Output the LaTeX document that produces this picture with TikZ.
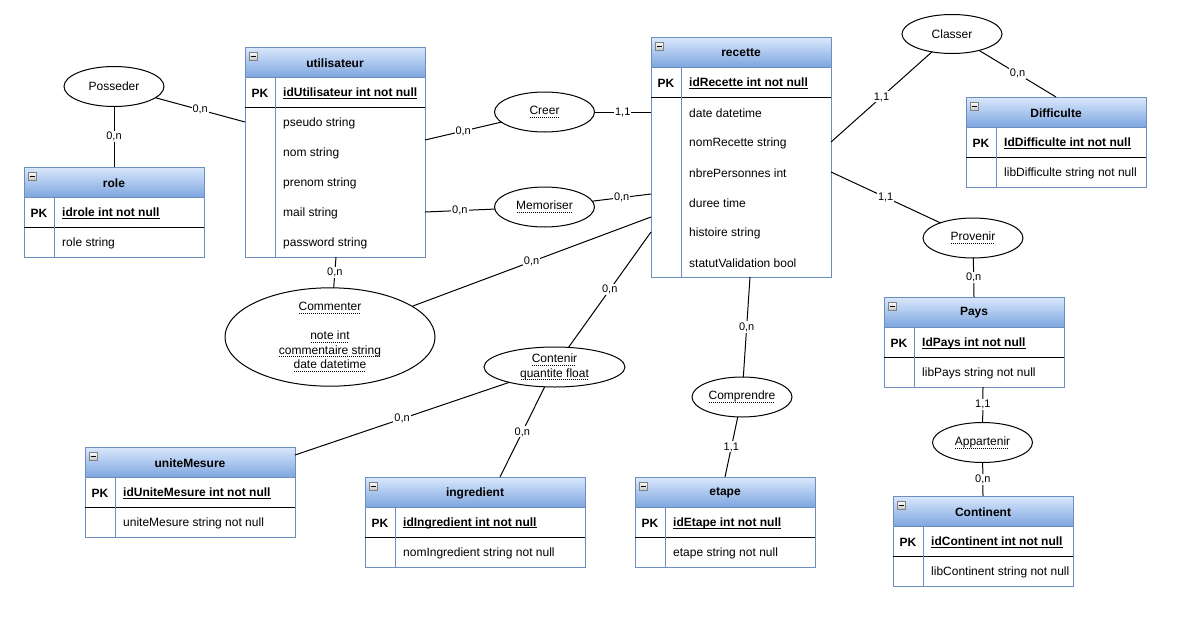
\documentclass[tikz,border=0pt]{standalone}
\usepackage{fontspec}
\setmainfont{Liberation Sans}
\usetikzlibrary{shapes.geometric,calc}

\definecolor{hdrtop}{HTML}{DAE8FC}
\definecolor{hdrbot}{HTML}{7EA6E0}
\definecolor{tblline}{HTML}{6C8EBF}

\newcommand\txtfont{\fontsize{12}{14.5}\selectfont}
\newcommand\cardfont{\fontsize{11}{13}\selectfont}
% solid underline for key columns
\newcommand\pkul[1]{\setbox0\hbox{#1}\rlap{\raisebox{-2.2pt}{\rule{\wd0}{0.8pt}}}\box0}
% dotted underline for association attributes
\newcommand\dotul[1]{\setbox0\hbox{#1}\rlap{\raisebox{-3.2pt}{\hbox to \wd0{\leaders\hbox to 2pt{\hss\rule{1pt}{0.8pt}\hss}\hfill}}}\box0}

\tikzset{
  tblframe/.style={draw=tblline, line width=1pt, anchor=north west, inner sep=0, outer sep=0},
  tbltitle/.style={font=\txtfont\bfseries, inner sep=0},
  cell/.style={font=\txtfont, inner sep=0},
  keycell/.style={font=\txtfont\bfseries, inner sep=0},
  rel/.style={ellipse, draw, line width=1pt, inner sep=0, outer sep=0, font=\txtfont, align=center,
              minimum width=100pt, minimum height=40pt},
  link/.style={line width=1pt, draw=black},
  card/.style={fill=white, inner sep=1pt, font=\cardfont},
}

% #1 name, #2 left, #3 top, #4 width, #5 attribute rows, #6 title, #7 key, #8 attributes
\newcommand\ertable[8]{%
  \pgfmathsetmacro\tblh{60+30*#5}
  \shade[top color=hdrtop, bottom color=hdrbot] (#2,#3) rectangle ++(#4,30);
  \node[tblframe, minimum width=#4pt, minimum height=\tblh pt] (#1) at (#2,#3) {};
  \draw[tblline, line width=1pt] ($(#1.north west)+(0,30)$) -- ($(#1.north east)+(0,30)$);
  \draw[black, line width=1pt] ($(#1.north west)+(0,60)$) -- ($(#1.north east)+(0,60)$);
  \draw[tblline, line width=1pt] ($(#1.north west)+(30,30)$) -- ($(#1.south west)+(30,0)$);
  \draw[gray, line width=0.8pt, top color=white, bottom color=gray!45] ($(#1.north west)+(4,5)$) rectangle ++(8,8);
  \draw[black, line width=0.8pt] ($(#1.north west)+(5.5,9)$) -- ++(5,0);
  \node[tbltitle] (#1-title) at ($(#1.north)+(0,16)$) {#6};
  \node[keycell] (#1-pk) at ($(#1.north west)+(15,46)$) {PK};
  \node[keycell, anchor=west] (#1-key) at ($(#1.north west)+(38,46)$) {\pkul{#7}};
  \foreach \a [count=\i] in {#8}
    \node[cell, anchor=west] (#1-attr\i) at ($(#1.north west)+(38,46+30*\i)$) {\a};
}

\begin{document}
\begin{tikzpicture}[x=1pt, y=-1pt]
\fill[white] (0,0) rectangle (1188,621);
\useasboundingbox (0,0) rectangle (1188,621);

% entity tables
\ertable{util}{245}{47}{180}{5}{utilisateur}{idUtilisateur int not null}{pseudo string,nom string,prenom string,mail string,password string}
\ertable{recette}{651}{37}{180}{6}{recette}{idRecette int not null}{date datetime,nomRecette string,nbrePersonnes int,duree time,histoire string,statutValidation bool}
\ertable{role}{24}{167}{180}{1}{role}{idrole int not null}{role string}
\ertable{difficulte}{966}{97}{180}{1}{Difficulte}{IdDifficulte int not null}{libDifficulte string not null}
\ertable{pays}{884}{297}{180}{1}{Pays}{IdPays int not null}{libPays string not null}
\ertable{continent}{893}{496}{180}{1}{Continent}{idContinent int not null}{libContinent string not null}
\ertable{unite}{85}{447}{210}{1}{uniteMesure}{idUniteMesure int not null}{uniteMesure string not null}
\ertable{ingredient}{365}{477}{220}{1}{ingredient}{idIngredient int not null}{nomIngredient string not null}
\ertable{etape}{635}{477}{180}{1}{etape}{idEtape int not null}{etape string not null}

% associations
\node[rel] (posseder) at (114,86.5) {Posseder};
\node[rel] (creer) at (544.5,112) {\dotul{Creer}};
\node[rel] (memoriser) at (544.5,207) {\dotul{Memoriser}};
\node[rel, minimum width=210pt, minimum height=80pt] (commenter) at (330,337)
  {\dotul{Commenter}\\[14.5pt]\dotul{note int}\\\dotul{commentaire string}\\\dotul{date datetime}};
\node[rel, minimum width=141pt] (contenir) at (554.5,367) {\dotul{Contenir}\\\dotul{quantite float}};
\node[rel] (comprendre) at (742,397) {\dotul{Comprendre}};
\node[rel, minimum height=39pt] (classer) at (952,34) {Classer};
\node[rel] (provenir) at (973,238) {\dotul{Provenir}};
\node[rel] (appartenir) at (982.5,442.5) {\dotul{Appartenir}};

% links with cardinalities
\draw[link] (posseder) -- node[card]{0,n} ($(util.north west)+(0,75)$);
\draw[link] (posseder) -- node[card]{0,n} (role.north);
\draw[link] ($(util.north east)+(0,93)$) -- node[card]{0,n} (creer);
\draw[link] (creer) -- node[card]{1,1} ($(recette.north west)+(0,75)$);
\draw[link] ($(util.north east)+(0,165)$) -- node[card]{0,n} (memoriser);
\draw[link] (memoriser) -- node[card]{0,n} ($(recette.north west)+(0,157)$);
\draw[link] (commenter) -- node[card]{0,n} ($(util.south west)+(91,0)$);
\draw[link] (commenter) -- node[card]{0,n} ($(recette.north west)+(0,180)$);
\draw[link] (contenir) -- node[card]{0,n} ($(recette.north west)+(0,195)$);
\draw[link] (contenir) -- node[card]{0,n} ($(unite.north east)+(0,8)$);
\draw[link] (contenir) -- node[card]{0,n} ($(ingredient.north west)+(135,0)$);
\draw[link] ($(recette.south west)+(99,0)$) -- node[card]{0,n} (comprendre);
\draw[link] (comprendre) -- node[card]{1,1} (etape.north);
\draw[link] (classer) -- node[card]{1,1} ($(recette.north east)+(0,105)$);
\draw[link] (classer) -- node[card]{0,n} (difficulte.north);
\draw[link] ($(recette.north east)+(0,135)$) -- node[card]{1,1} (provenir);
\draw[link] (provenir) -- node[card]{0,n} (pays.north);
\draw[link] ($(pays.south west)+(99,0)$) -- node[card]{1,1} (appartenir);
\draw[link] (appartenir) -- node[card]{0,n} (continent.north);
\end{tikzpicture}
\end{document}
